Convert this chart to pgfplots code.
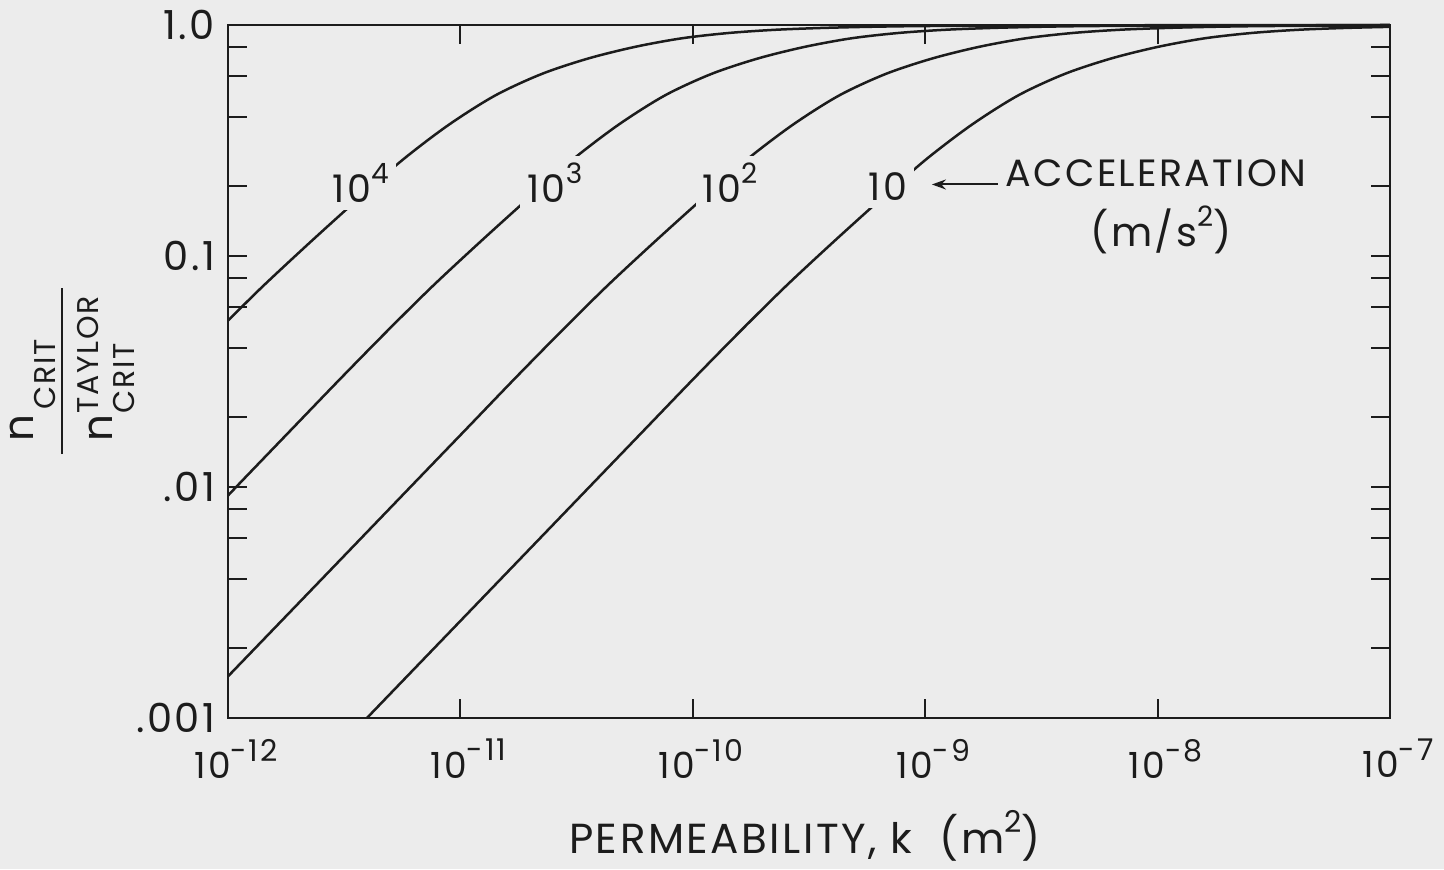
\documentclass[border=0pt]{standalone}
\usepackage{fontspec}
\setmainfont{Poppins}[LetterSpace=6]
\usepackage{pgfplots}
\pgfplotsset{compat=1.18}
\usetikzlibrary{arrows.meta}
\definecolor{bgc}{RGB}{236,236,236}
\definecolor{ink}{RGB}{28,28,28}
\newcommand{\tp}[1]{10\raisebox{0.48em}{\fontsize{15}{15}\selectfont #1}}
\newcommand{\cp}[1]{10\raisebox{0.5em}{\fontsize{14}{14}\selectfont #1}}
\begin{document}
\begin{tikzpicture}[x=1pt,y=1pt]
\fill[bgc] (0,0) rectangle (722,434.5);
\useasboundingbox (0,0) rectangle (722,434.5);
\begin{axis}[
  at={(114pt,75.5pt)}, anchor=south west,
  scale only axis, width=581pt, height=346.5pt,
  xmode=log, ymode=log,
  xmin=1e-12, xmax=1e-7, ymin=1e-3, ymax=1,
  xtick={1e-12,1e-11,1e-10,1e-9,1e-8,1e-7},
  xticklabels={\tp{-12},\tp{-11},\tp{-10},\tp{-9},\tp{-8},\tp{-7}},
  ytick={0.001,0.002,0.004,0.006,0.008,0.01,0.02,0.04,0.06,0.08,0.1,0.2,0.4,0.6,0.8,1},
  yticklabels={.001,,,,,.01,,,,,0.1,,,,,1.0},
  xminorticks=false, yminorticks=false,
  tick align=inside,
  major tick length=9.5pt,
  tick style={ink, line width=1pt},
  axis line style={ink, line width=1.4pt},
  tick label style={font=\fontsize{18}{20}\selectfont, text=ink},
  xticklabel style={yshift=-7pt, xshift=4pt},
  yticklabel style={xshift=-3pt, font=\fontsize{20}{22}\selectfont},
  clip=false,
]
\addplot[ink, line width=1.25pt, smooth, tension=0.5] coordinates {
(3.963e-12,0.001) (1.585e-11,0.004256) (3.981e-11,0.011143) (6.310e-11,0.01803)
(1e-10,0.02917) (1.585e-10,0.04677) (2.512e-10,0.07396) (3.981e-10,0.1138)
(6.310e-10,0.1730) (1e-9,0.2600) (1.585e-9,0.3698) (2.512e-9,0.4955)
(3.981e-9,0.6138) (6.310e-9,0.7161) (1e-8,0.8035) (1.585e-8,0.8750)
(2.512e-8,0.9226) (3.981e-8,0.9528) (6.310e-8,0.9705) (1e-7,0.9817)};
\addplot[ink, line width=1.25pt, smooth, tension=0.5] coordinates {
(1e-12,0.001514) (2.692e-12,0.004256) (6.761e-12,0.011143) (1.072e-11,0.01803)
(1.698e-11,0.02917) (2.692e-11,0.04677) (4.266e-11,0.07396) (6.761e-11,0.1138)
(1.072e-10,0.1730) (1.698e-10,0.2600) (2.692e-10,0.3698) (4.266e-10,0.4955)
(6.761e-10,0.6138) (1.072e-9,0.7161) (1.698e-9,0.8035) (2.692e-9,0.8750)
(4.266e-9,0.9226) (6.761e-9,0.9528) (1.072e-8,0.9705) (1.698e-8,0.9817)
(2.692e-8,0.9886) (5.370e-8,0.9931) (1e-7,0.9950)};
\addplot[ink, line width=1.25pt, smooth, tension=0.5] coordinates {
(1e-12,0.009183) (1.202e-12,0.011143) (1.905e-12,0.01803) (3.020e-12,0.02917)
(4.786e-12,0.04677) (7.586e-12,0.07396) (1.202e-11,0.1138) (1.905e-11,0.1730)
(3.020e-11,0.2600) (4.786e-11,0.3698) (7.586e-11,0.4955) (1.202e-10,0.6138)
(1.905e-10,0.7161) (3.020e-10,0.8035) (4.786e-10,0.8750) (7.586e-10,0.9226)
(1.202e-9,0.9528) (1.905e-9,0.9705) (3.020e-9,0.9817) (4.786e-9,0.9886)
(9.550e-9,0.9931) (3.020e-8,0.9966) (1e-7,0.9985)};
\addplot[ink, line width=1.25pt, smooth, tension=0.5] coordinates {
(1e-12,0.05248) (1.413e-12,0.07396) (2.239e-12,0.1138) (3.548e-12,0.1730)
(5.623e-12,0.2600) (8.913e-12,0.3698) (1.413e-11,0.4955) (2.239e-11,0.6138)
(3.548e-11,0.7161) (5.623e-11,0.8035) (8.913e-11,0.8750) (1.413e-10,0.9226)
(2.239e-10,0.9528) (3.548e-10,0.9705) (5.623e-10,0.9817) (8.913e-10,0.9886)
(1.778e-9,0.9931) (5.623e-9,0.9966) (1.778e-8,0.9984) (1e-7,1.0)};
\begin{scope}[every node/.style={fill=bgc, inner sep=3.5pt, text=ink, font=\fontsize{19}{19}\selectfont}]
\node at (axis cs:3.73e-12,0.207) {\cp{4}};
\node at (axis cs:2.55e-11,0.207) {\cp{3}};
\node at (axis cs:1.445e-10,0.207) {\cp{2}};
\node at (axis cs:6.92e-10,0.199) {10};
\end{scope}
\draw[ink, line width=1pt, -{Stealth[length=7pt,width=5pt]}] (axis cs:2.05e-9,0.204) -- (axis cs:1.069e-9,0.204);
\node[text=ink, font=\fontsize{19}{19}\selectfont] at (axis cs:9.84e-9,0.229) {ACCELERATION};
\node[text=ink, font=\fontsize{20}{20}\selectfont] at (axis cs:1.035e-8,0.1297) {(m/s\raisebox{0.5em}{\fontsize{14}{14}\selectfont 2})};
\end{axis}
\begin{scope}[shift={(31,249.5)}, rotate=90, transform shape, every node/.style={inner sep=0pt, anchor=base west, text=ink, font=\fontsize{15}{15}\selectfont}]
\node[font=\fontsize{21}{21}\selectfont] at (-36,14.5) {n};
\node at (-20,3.5) {CRIT};
\draw[ink, line width=1.4pt] (-42,0) -- (41,0);
\node[font=\fontsize{21}{21}\selectfont] at (-36,-25) {n};
\node at (-22,-18) {TAYLOR};
\node at (-22,-36) {CRIT};
\end{scope}
\node[anchor=base, text=ink, font=\fontsize{21}{22}\selectfont] at (402.5,8) {PERMEABILITY,\ k\ \ (m\raisebox{0.5em}{\fontsize{15}{15}\selectfont 2})};
\end{tikzpicture}
\end{document}
